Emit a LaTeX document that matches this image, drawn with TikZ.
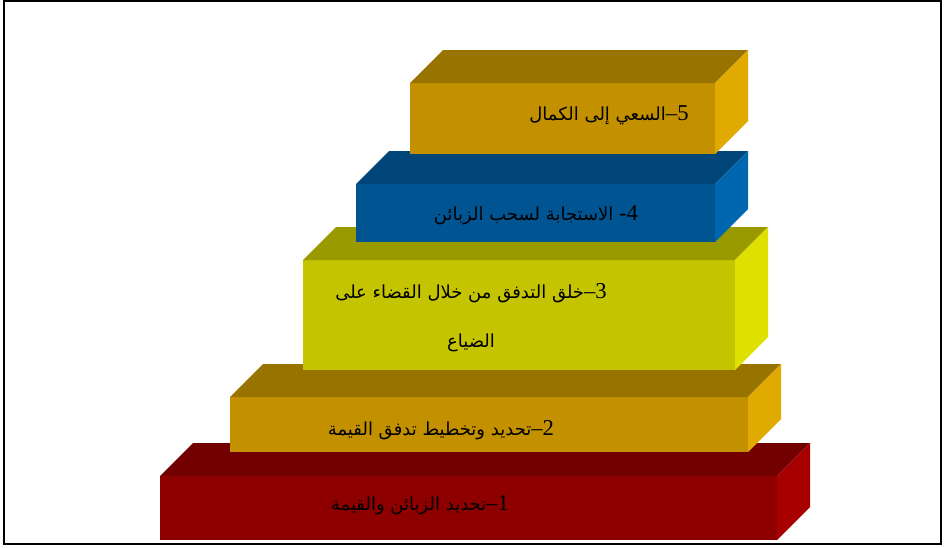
\documentclass[tikz,border=0pt]{standalone}
\usepackage{fontspec}
\TeXXeTstate=1
\newfontfamily\arabicfont[Script=Arabic]{DejaVu Sans}
\newfontfamily\numfont{Liberation Serif}
\definecolor{goldF}{RGB}{195,145,0}
\definecolor{goldT}{RGB}{153,115,0}
\definecolor{goldS}{RGB}{225,170,0}
\definecolor{blueF}{RGB}{0,84,145}
\definecolor{blueT}{RGB}{0,70,120}
\definecolor{blueS}{RGB}{0,102,175}
\definecolor{oliveF}{RGB}{196,196,0}
\definecolor{oliveT}{RGB}{153,153,0}
\definecolor{oliveS}{RGB}{224,224,0}
\definecolor{redF}{RGB}{142,0,0}
\definecolor{redT}{RGB}{115,0,0}
\definecolor{redS}{RGB}{168,0,0}
% x1 y1 x2 y2 front top side
\newcommand\slab[7]{%
  \fill[#5] (#1,#2) rectangle (#3,#4);
  \fill[#6] (#1,#2) -- (#1+33,#2-33) -- (#3+33,#2-33) -- (#3,#2) -- cycle;
  \fill[#7] (#3,#2) -- (#3+33,#2-33) -- (#3+33,#4-33) -- (#3,#4) -- cycle;
}
\newcommand\stepnum[2]{{\numfont\fontsize{17}{19}\selectfont #1}\kern0pt{\numfont\fontsize{17}{19}\selectfont #2}\kern0pt}
\tikzset{lbl/.style={font=\arabicfont\fontsize{13.5}{16}\selectfont, inner sep=0pt, text=black}}
\begin{document}
\begin{tikzpicture}[x=0.75pt,y=-0.75pt]
\useasboundingbox (0,0) rectangle (944,547);
\fill[white] (0,0) rectangle (944,547);
\slab{160}{476}{777}{540}{redF}{redT}{redS}
\slab{230}{397}{748}{452}{goldF}{goldT}{goldS}
\slab{303}{260}{735}{370}{oliveF}{oliveT}{oliveS}
\slab{356}{184}{715}{242}{blueF}{blueT}{blueS}
\slab{410}{83}{715}{154}{goldF}{goldT}{goldS}
\draw[line width=1.5pt] (4,1) rectangle (941,544);
\node[lbl] (t5) at (609,115) {\beginR\stepnum{5}{–}السعي إلى الكمال\endR};
\node[lbl] (t4) at (536,215) {\beginR\stepnum{4}{-}\ الاستجابة لسحب الزبائن\endR};
\node[lbl,align=center] (t3) at (471,318) {\beginR\stepnum{3}{–}خلق التدفق من خلال القضاء على\endR\\[21pt]\beginR الضياع\endR};
\node[lbl] (t2) at (441,430) {\beginR\stepnum{2}{–}تحديد وتخطيط تدفق القيمة\endR};
\node[lbl] (t1) at (420,505) {\beginR\stepnum{1}{–}تحديد الزبائن والقيمة\endR};
\end{tikzpicture}
\end{document}
